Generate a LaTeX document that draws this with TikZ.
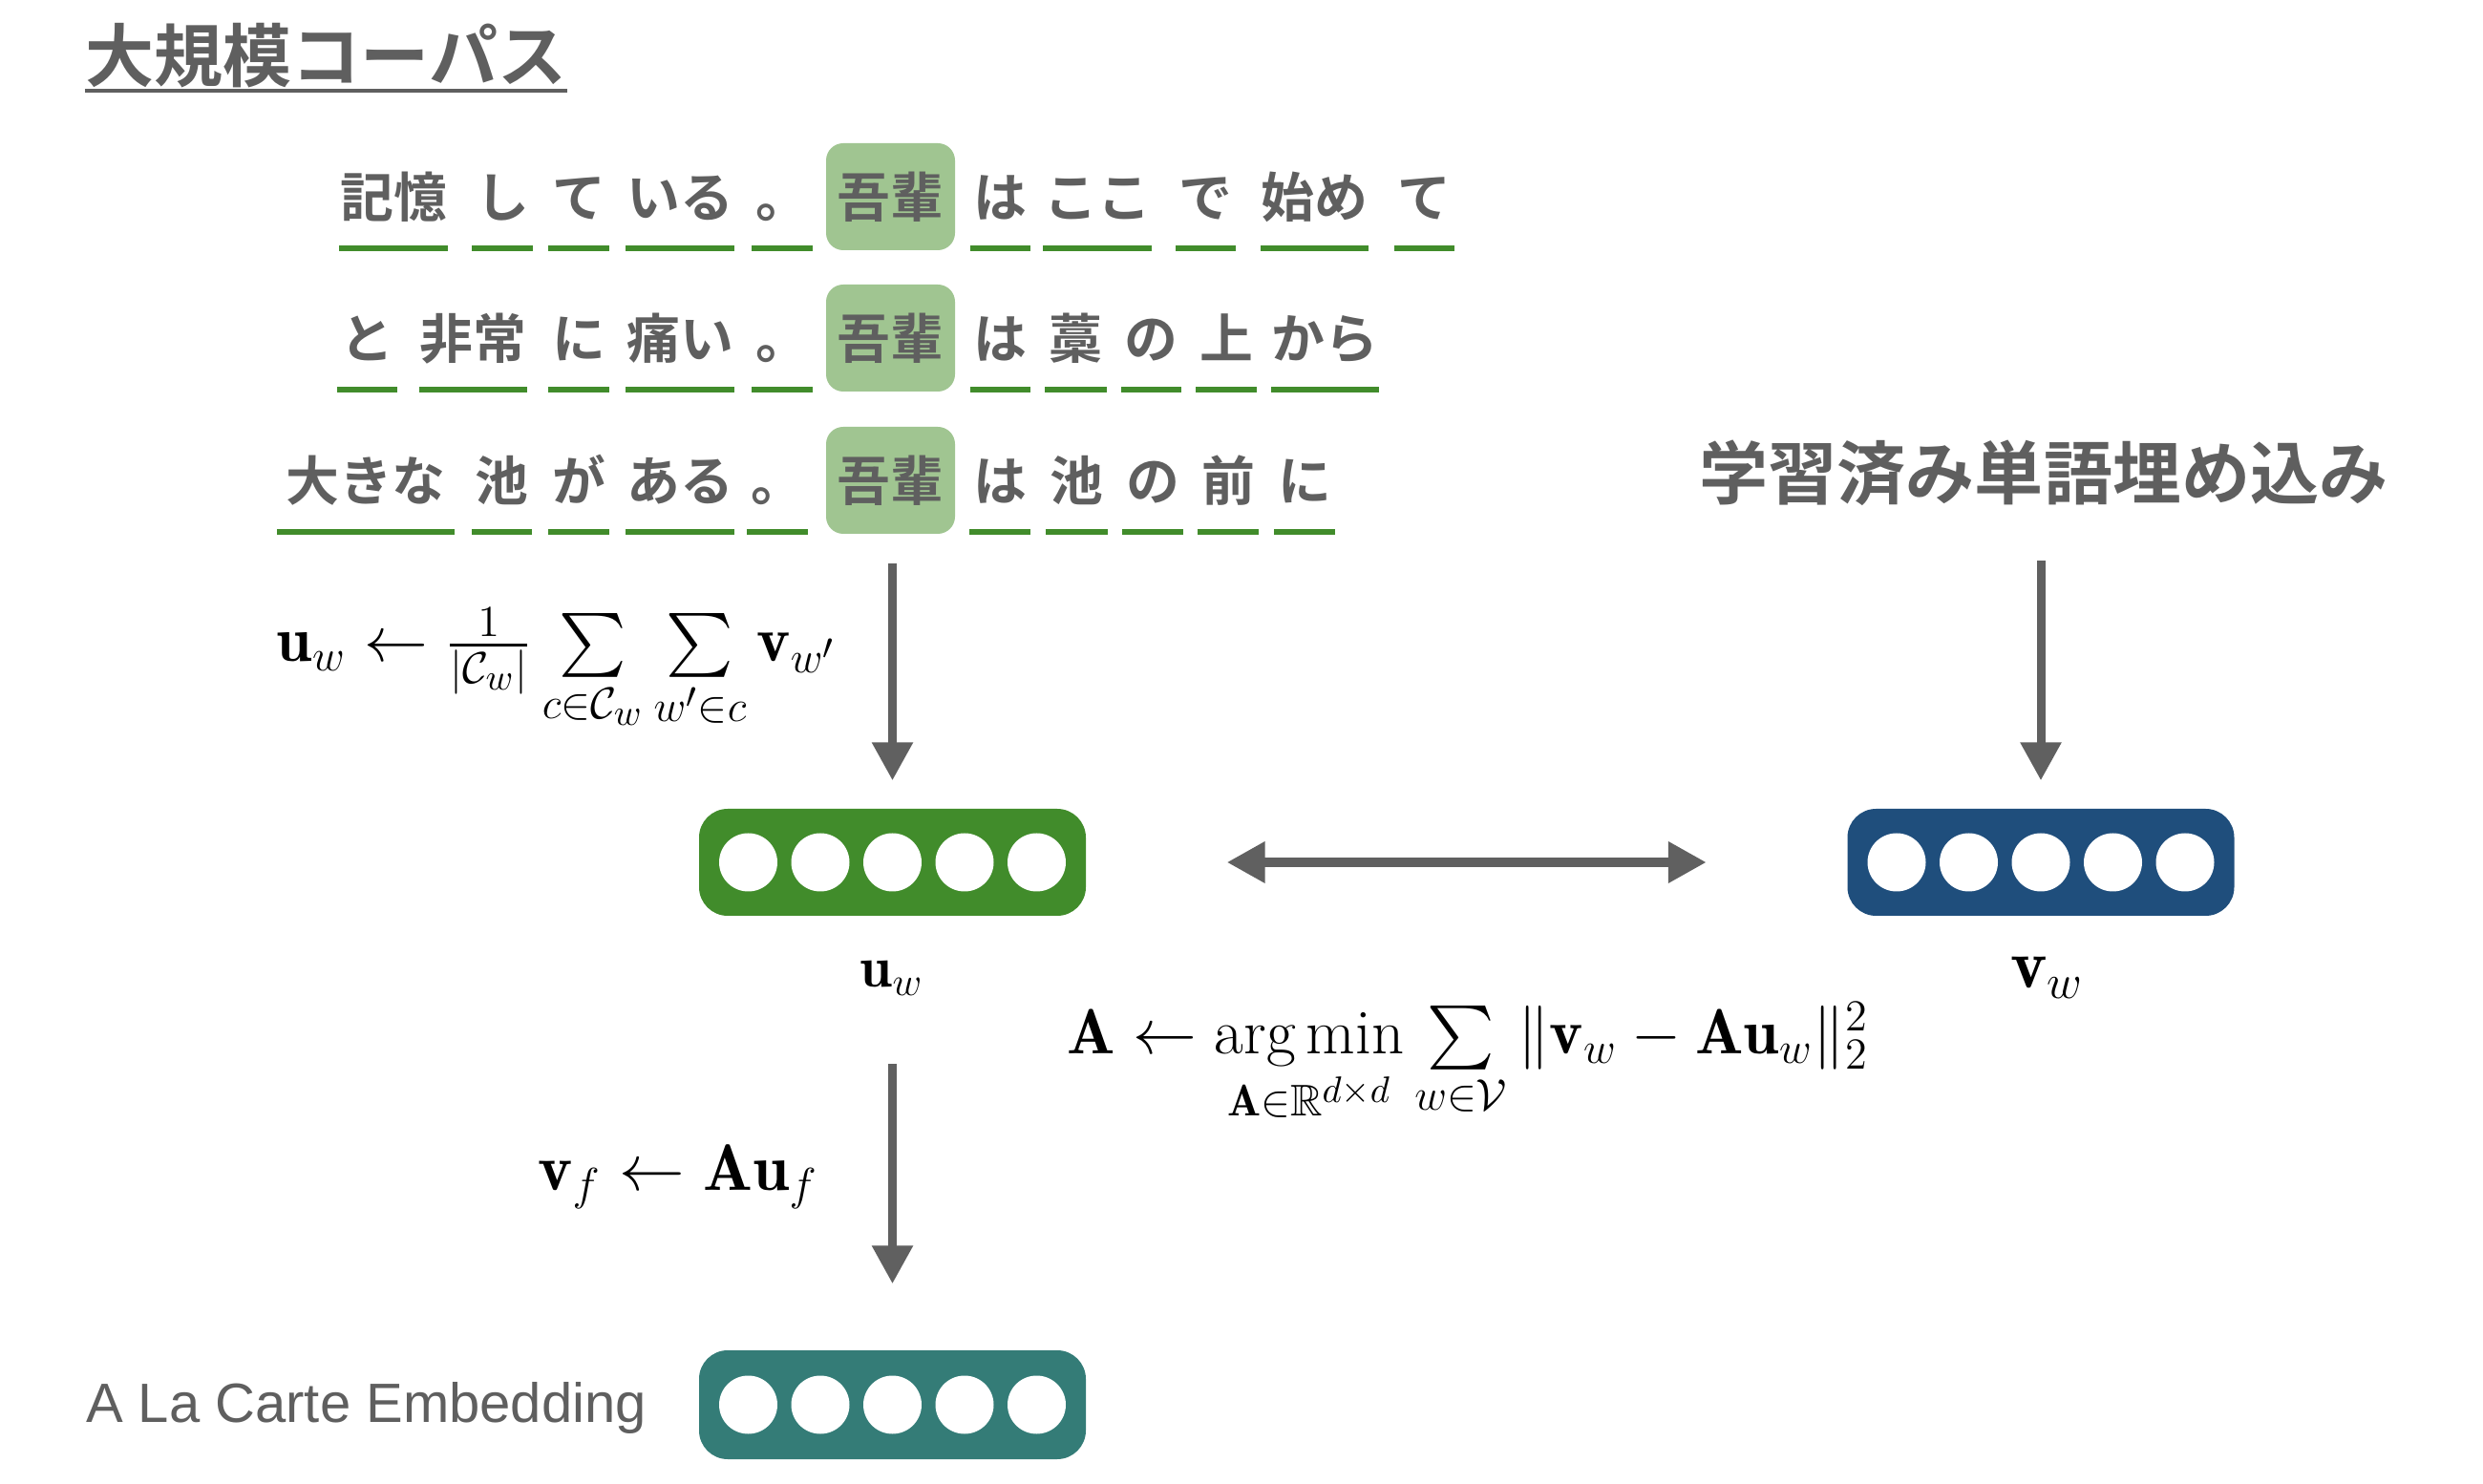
\documentclass[tikz,border=0pt]{standalone}
\usepackage{amsmath}
\usepackage{amssymb}
\usepackage{fontspec}
\newfontfamily\jpfont{Noto Sans CJK JP Bold}
\newfontfamily\latsans{Liberation Sans}
\usetikzlibrary{arrows.meta}
\DeclareMathOperator*{\argmin}{arg\,min}
\definecolor{txtgray}{HTML}{5F5F5F}
\definecolor{arrgray}{HTML}{606060}
\definecolor{ugreen}{HTML}{418C2B}
\definecolor{hlgreen}{HTML}{A0C591}
\definecolor{vblue}{HTML}{1F4E7C}
\definecolor{fteal}{HTML}{347C77}

\begin{document}
\begin{tikzpicture}[
    arr/.style = {-{Triangle[length=0.4cm, width=0.41cm]}, line width=0.09cm, draw=arrgray},
    darr/.style = {{Triangle[length=0.4cm, width=0.41cm]}-{Triangle[length=0.4cm, width=0.41cm]}, line width=0.1cm, draw=arrgray},
    title/.style = {text=txtgray, font=\jpfont\fontsize{20.5}{24}\selectfont, inner sep=0pt, text height=0.634cm, text depth=0.086cm},
    word/.style = {text=txtgray, font=\jpfont\fontsize{15.9}{19}\selectfont, inner xsep=0pt, inner ysep=0.25cm, text height=0.493cm, text depth=0.067cm},
    hl/.style = {word, fill=hlgreen, rounded corners=0.18cm, minimum width=1.35cm, minimum height=1.12cm, inner ysep=0pt},
    uline/.style = {draw=ugreen, line width=0.06cm},
    emb/.style = {rounded corners=0.3cm, minimum width=4.05cm, minimum height=1.12cm, inner sep=0pt},
    cell/.style = {circle, fill=white, minimum size=0.61cm, inner sep=0pt},
    eq/.style = {font=\LARGE, inner sep=1pt}]
    \useasboundingbox (0,0) rectangle (26,-15.54);

    % Headings
    \node[title] (t1) at (3.415,-0.585) {大規模コーパス};
    \draw[draw=txtgray, line width=0.04cm] (t1.south west) -- (t1.south east);
    \node[title] (t2) at (21.40,-4.955) {学習済み単語埋め込み};

    % Corpus lines
    \foreach \x/\w/\t [count=\i] in {4.12/1.07/記憶, 5.26/0.62/し, 6.06/0.62/て, 7.12/1.07/いる, 8.19/0.62/。,
        10.475/0.61/は, 11.49/1.07/ここ, 12.625/0.61/で, 13.765/1.07/始め, 14.915/0.61/て} {
      \node[word, minimum width=\w cm] (a\i) at (\x,-2.06) {\t};
      \draw[uline] (a\i.south west) -- (a\i.south east);
    }
    \foreach \x/\w/\t [count=\i] in {3.845/0.61/と, 4.955/1.07/非常, 6.06/0.62/に, 7.12/1.07/痛い, 8.19/0.62/。,
        10.475/0.61/は, 11.265/0.63/藁, 12.055/0.61/の, 12.84/0.62/上, 13.875/1.07/から} {
      \node[word, minimum width=\w cm] (b\i) at (\x,-3.54) {\t};
      \draw[uline] (b\i.south west) -- (b\i.south east);
    }
    \foreach \x/\w/\t [count=\i] in {3.83/1.84/大きな, 5.255/0.62/池, 6.06/0.62/が, 7.12/1.07/ある, 8.14/0.62/。,
        10.47/0.62/は, 11.275/0.63/池, 12.07/0.62/の, 12.86/0.62/前, 13.66/0.62/に} {
      \node[word, minimum width=\w cm] (c\i) at (\x,-5.03) {\t};
      \draw[uline] (c\i.south west) -- (c\i.south east);
    }
    \node[hl] (g1) at (9.325,-2.06) {吾輩};
    \node[hl] (g2) at (9.325,-3.54) {吾輩};
    \node[hl] (g3) at (9.325,-5.03) {吾輩};

    % Embeddings
    \node[emb, fill=ugreen] (u) at (9.345,-9.03) {};
    \node[emb, fill=vblue] (v) at (21.37,-9.03) {};
    \node[emb, fill=fteal, minimum height=1.14cm] (f) at (9.345,-14.71) {};
    \foreach \b in {u,v,f}
      \foreach \k [count=\i] in {-2,...,2}
        \node[cell] (\b\i) at ([xshift=\k*7.55mm]\b.center) {};

    \node[eq] (lu) at (9.34,-10.24) {$\mathbf{u}_w$};
    \node[eq, font=\huge] (lv) at (21.44,-10.24) {$\mathbf{v}_w$};
    \node[text=txtgray, font=\latsans\fontsize{16.5}{19}\selectfont] (la) at (3.835,-14.75) {A La Carte Embedding};

    % Formulas
    \node[eq, scale=1.1] (e1) at (5.83,-7.01) {$\mathbf{u}_w \leftarrow \frac{1}{|\mathcal{C}_w|} \sum\limits_{c\in\mathcal{C}_w} \sum\limits_{w'\in c} \mathbf{v}_{w'}$};
    \node[eq, scale=1.13] (e2) at (7.1,-12.32) {$\mathbf{v}_f \leftarrow \mathbf{A}\mathbf{u}_f$};
    \node[eq, scale=1.1] (e3) at (15.37,-11.13) {$\mathbf{A} \leftarrow \argmin\limits_{\mathbf{A}\in\mathbb{R}^{d\times d}} \sum\limits_{w\in\mathcal{V}} \|\mathbf{v}_w - \mathbf{A}\mathbf{u}_w\|_2^2$};

    % Edges
    \coordinate (c0) at (9.345,-11.14);
    \draw[arr, shorten <=0.3cm, shorten >=0.29cm] (g3.south -| u.north) -- (u);
    \draw[arr, shorten <=0.55cm, shorten >=0.29cm] (t2.south -| v.north) -- (v);
    \draw[arr, shorten >=0.69cm] (c0) -- (f);
    \draw[darr, shorten <=1.47cm, shorten >=1.47cm] (u) -- (v);

\end{tikzpicture}
\end{document}
